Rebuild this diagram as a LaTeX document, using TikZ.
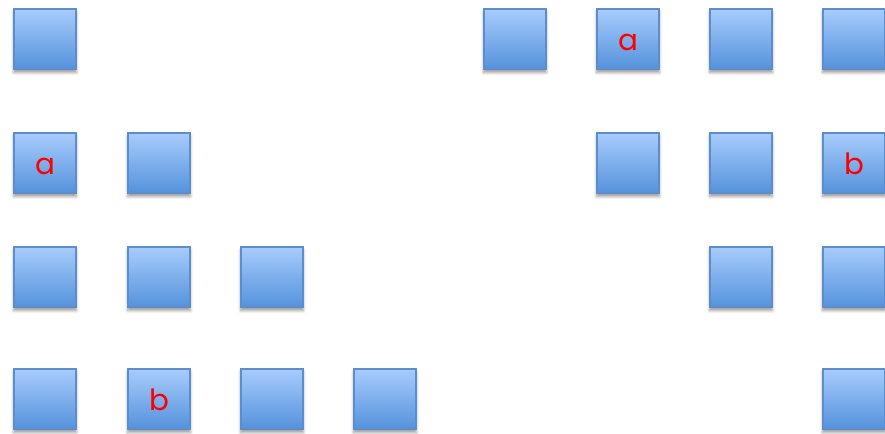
\documentclass[tikz,border=0pt]{standalone}
\usepackage{fontspec}
\setmainfont{Poppins}
\usetikzlibrary{shadows.blur}
\definecolor{boxtop}{RGB}{168,204,252}
\definecolor{boxbot}{RGB}{84,146,220}
\definecolor{boxline}{RGB}{92,142,206}
\definecolor{lbl}{RGB}{255,0,0}
\tikzset{
  sq/.style={rectangle, minimum width=47pt, minimum height=45.5pt, inner sep=0pt,
    text height=17.5pt, text depth=0pt,
    top color=boxtop, bottom color=boxbot, draw=boxline, line width=1.3pt,
    blur shadow={shadow xshift=0pt, shadow yshift=-2.4pt, shadow blur radius=2.2pt, shadow opacity=40},
    font=\fontsize{22}{22}\selectfont, text=lbl}
}
\begin{document}
\begin{tikzpicture}[x=0.75pt,y=-0.75pt]
\useasboundingbox (0,0) rectangle (885,433);
\clip (0,0) rectangle (885,433);
% left staircase
\node[sq] (l11) at (45,39) {};
\node[sq] (l21) at (45,163) {a};
\node[sq] (l22) at (159,163) {};
\node[sq] (l31) at (45,277) {};
\node[sq] (l32) at (159,277) {};
\node[sq] (l33) at (272,277) {};
\node[sq] (l41) at (45,399) {};
\node[sq] (l42) at (159,399) {b};
\node[sq] (l43) at (272,399) {};
\node[sq] (l44) at (385,399) {};
% right staircase
\node[sq] (r11) at (515,39) {};
\node[sq] (r12) at (628,39) {a};
\node[sq] (r13) at (741,39) {};
\node[sq] (r14) at (854,39) {};
\node[sq] (r22) at (628,163) {};
\node[sq] (r23) at (741,163) {};
\node[sq] (r24) at (854,163) {b};
\node[sq] (r33) at (741,277) {};
\node[sq] (r34) at (854,277) {};
\node[sq] (r44) at (854,399) {};
\end{tikzpicture}
\end{document}
